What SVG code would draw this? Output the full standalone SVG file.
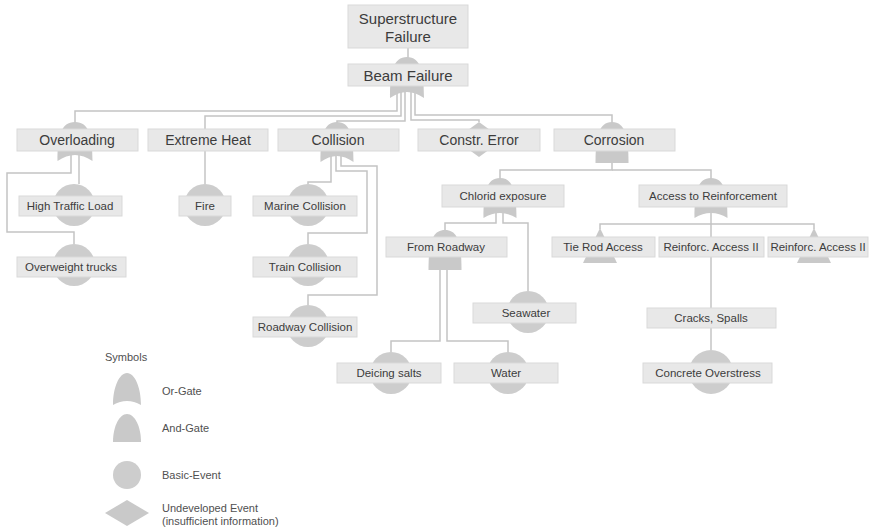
<svg xmlns="http://www.w3.org/2000/svg" width="870" height="530" viewBox="0 0 870 530">
<style>
.bx{fill:#e8e8e8;stroke:#d9d9d9;stroke-width:1}
.g{fill:#c9c9c9}
.c{fill:#cdcdcd}
.t{font-family:"Liberation Sans",Arial,sans-serif;fill:#3c3c3c;text-anchor:middle}
.t15{font-size:15px}
.t14{font-size:14px}
.t12{font-size:11.5px}
.lg{font-family:"Liberation Sans",Arial,sans-serif;fill:#505050;font-size:11px}
.ln{fill:none;stroke:#c4c4c4;stroke-width:1.5}
</style>
<rect width="870" height="530" fill="#ffffff"/>
<g id="connectors" class="ln">
<path d="M408,48 V58"/>
<path d="M397,92 V111 H75 V123"/>
<path d="M401,92 V116 H205 V129"/>
<path d="M405,92 V121 H337 V123"/>
<path d="M411,92 V120 H479 V122"/>
<path d="M415,92 V115 H612 V123"/>
<path d="M79,155 V184"/>
<path d="M71,155 V173 H7 V232 H74 V244"/>
<path d="M205,151 V184"/>
<path d="M331,156 V182 H308 V184"/>
<path d="M336,156 V171 H367 V233 H308 V244"/>
<path d="M341,156 V166 H377 V295 H308 V305"/>
<path d="M612,163 V170 H500 V179"/>
<path d="M612,170 H711 V179"/>
<path d="M496,213 V223 H445 V231"/>
<path d="M503,213 V223 H528 V291"/>
<path d="M711,213 V350"/>
<path d="M711,224 H600 V229"/>
<path d="M711,224 H814 V229"/>
<path d="M440,270 V341 H391 V352"/>
<path d="M447,270 V341 H508 V352"/>
</g>
<g id="superstructure">
<rect class="bx" x="348" y="5" width="120" height="43"/>
<text class="t t15" x="408" y="24">Superstructure</text>
<text class="t t15" x="408" y="42">Failure</text>
</g>
<g id="beam">
<path class="g" d="M390,98 C390,71.4 393.4,57 407,57 C420.6,57 424,71.4 424,98 Q407,86 390,98 Z"/>
<rect class="bx" x="348" y="64" width="120" height="22"/>
<text class="t t15" x="408" y="81">Beam Failure</text>
</g>
<g id="overloading">
<path class="g" d="M57.5,161 C57.5,135.7 61,122 75,122 C89,122 92.5,135.7 92.5,161 Q75,149 57.5,161 Z"/>
<rect class="bx" x="17" y="129" width="121" height="22"/>
<text class="t t14" x="77" y="145">Overloading</text>
</g>
<g id="extremeheat">
<rect class="bx" x="148" y="129" width="120" height="22"/>
<text class="t t14" x="208" y="145">Extreme Heat</text>
</g>
<g id="collision">
<path class="g" d="M320.5,162 C320.5,136 323.8,122 337,122 C350.2,122 353.5,136 353.5,162 Q337,150 320.5,162 Z"/>
<rect class="bx" x="278" y="129" width="121" height="22"/>
<text class="t t14" x="338" y="145">Collision</text>
</g>
<g id="constrerror">
<path class="g" d="M479,122 L503,139.5 L479,157 L455,139.5 Z"/>
<rect class="bx" x="418" y="129" width="122" height="22"/>
<text class="t t14" x="479" y="145">Constr. Error</text>
</g>
<g id="corrosion">
<path class="g" d="M595.5,163 C595.5,136.4 598.8,122 612,122 C625.2,122 628.5,136.4 628.5,163 Z"/>
<rect class="bx" x="554" y="129" width="121" height="22"/>
<text class="t t14" x="614" y="145">Corrosion</text>
</g>
<g id="hightraffic">
<circle class="c" cx="74" cy="205" r="21"/>
<rect class="bx" x="19" y="196" width="103" height="20"/>
<text class="t t12" x="70" y="210">High Traffic Load</text>
</g>
<g id="overweight">
<circle class="c" cx="74" cy="265" r="21"/>
<rect class="bx" x="17" y="257" width="109" height="20"/>
<text class="t t12" x="71" y="271">Overweight trucks</text>
</g>
<g id="fire">
<circle class="c" cx="205" cy="205" r="21"/>
<rect class="bx" x="179" y="196" width="52" height="20"/>
<text class="t t12" x="205" y="210">Fire</text>
</g>
<g id="marine">
<circle class="c" cx="308" cy="205" r="21"/>
<rect class="bx" x="253" y="196" width="104" height="20"/>
<text class="t t12" x="305" y="210">Marine Collision</text>
</g>
<g id="train">
<circle class="c" cx="308" cy="265" r="21"/>
<rect class="bx" x="253" y="257" width="104" height="20"/>
<text class="t t12" x="305" y="271">Train Collision</text>
</g>
<g id="roadwaycollision">
<circle class="c" cx="308" cy="326" r="21"/>
<rect class="bx" x="253" y="317" width="104" height="20"/>
<text class="t t12" x="305" y="331">Roadway Collision</text>
</g>
<g id="chlorid">
<path class="g" d="M483.5,218 C483.5,192 486.8,178 500,178 C513.2,178 516.5,192 516.5,218 Q500,208 483.5,218 Z"/>
<rect class="bx" x="442" y="185" width="122" height="22"/>
<text class="t t12" x="503" y="200">Chlorid exposure</text>
</g>
<g id="access">
<path class="g" d="M694.5,218 C694.5,192 697.8,178 711,178 C724.2,178 727.5,192 727.5,218 Q711,208 694.5,218 Z"/>
<rect class="bx" x="639" y="185" width="148" height="22"/>
<text class="t t12" x="713" y="200">Access to Reinforcement</text>
</g>
<g id="fromroadway">
<path class="g" d="M428.5,270 C428.5,244 431.8,230 445,230 C458.2,230 461.5,244 461.5,270 Z"/>
<rect class="bx" x="386" y="237" width="121" height="20"/>
<text class="t t12" x="446" y="251">From Roadway</text>
</g>
<g id="tierod">
<path class="g" d="M600,228 L617,263 L583,263 Z"/>
<rect class="bx" x="552" y="237" width="103" height="20"/>
<text class="t t12" x="603" y="251">Tie Rod Access</text>
</g>
<g id="reinforc1">
<rect class="bx" x="659" y="237" width="105" height="20"/>
<text class="t t12" x="711" y="251">Reinforc. Access II</text>
</g>
<g id="reinforc2">
<path class="g" d="M814,228 L831,263 L797,263 Z"/>
<rect class="bx" x="768" y="237" width="100" height="20"/>
<text class="t t12" x="818" y="251">Reinforc. Access II</text>
</g>
<g id="seawater">
<circle class="c" cx="528" cy="312" r="21"/>
<rect class="bx" x="473" y="303" width="103" height="20"/>
<text class="t t12" x="526" y="317">Seawater</text>
</g>
<g id="cracks">
<rect class="bx" x="647" y="308" width="129" height="20"/>
<text class="t t12" x="711" y="322">Cracks, Spalls</text>
</g>
<g id="deicing">
<circle class="c" cx="391" cy="373" r="21"/>
<rect class="bx" x="337" y="363" width="104" height="20"/>
<text class="t t12" x="389" y="377">Deicing salts</text>
</g>
<g id="water">
<circle class="c" cx="508" cy="373" r="21"/>
<rect class="bx" x="454" y="363" width="104" height="20"/>
<text class="t t12" x="506" y="377">Water</text>
</g>
<g id="concrete">
<circle class="c" cx="711" cy="372" r="22"/>
<rect class="bx" x="643" y="363" width="129" height="20"/>
<text class="t t12" x="708" y="377">Concrete Overstress</text>
</g>
<g id="legend">
<text class="lg" x="105" y="361">Symbols</text>
<path class="g" d="M113,405 C113,387.4 119.2,373 127,373 C134.8,373 141,387.4 141,405 Q127,397 113,405 Z"/>
<text class="lg" x="162" y="395">Or-Gate</text>
<path class="g" d="M113,442 C113,426.6 119.2,414 127,414 C134.8,414 141,426.6 141,442 Z"/>
<text class="lg" x="162" y="432">And-Gate</text>
<circle class="c" cx="127" cy="475" r="14"/>
<text class="lg" x="162" y="479">Basic-Event</text>
<path class="g" d="M127,500 L149,513 L127,526 L105,513 Z"/>
<text class="lg" x="162" y="512">Undeveloped Event</text>
<text class="lg" x="162" y="525">(insufficient information)</text>
</g>
</svg>
